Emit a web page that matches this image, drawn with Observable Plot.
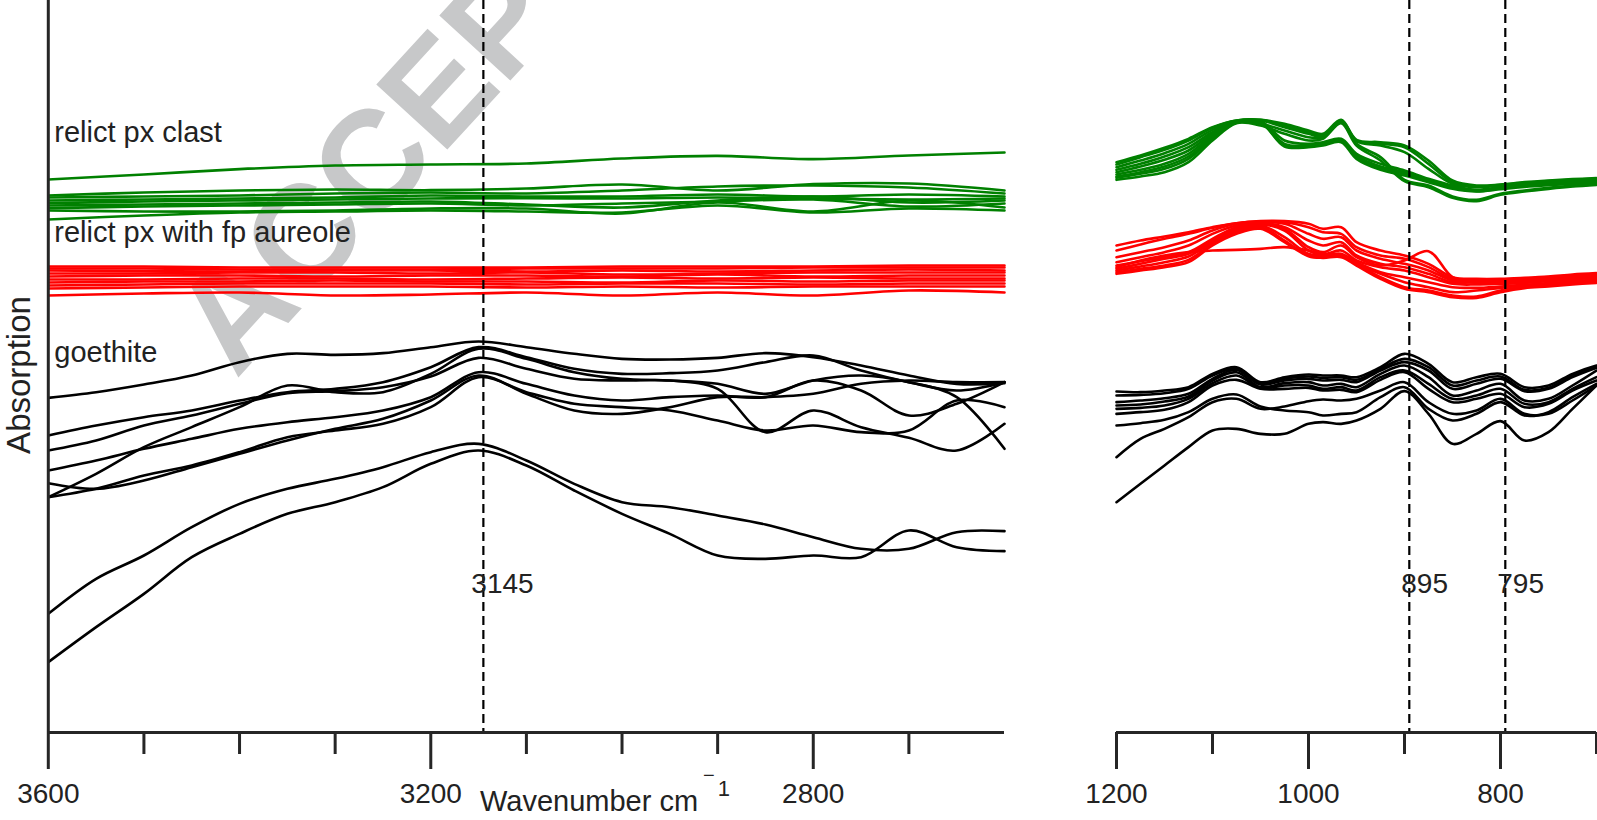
<!DOCTYPE html>
<html><head><meta charset="utf-8">
<script src="https://cdn.jsdelivr.net/npm/d3@7"></script>
<script src="https://cdn.jsdelivr.net/npm/@observablehq/plot@0.6"></script>
<style>
html,body{margin:0;padding:0;background:#fff;}
#wrap{position:relative;width:1597px;height:820px;overflow:hidden;}
#wrap svg{position:absolute;top:0;}
</style></head><body><div id="wrap"></div>
<script>
// ---------- data (absorption in arbitrary units) ----------
const wnLeftCoarse = [3600,3500,3400,3300,3200,3100,3000,2900,2800,2700,2600];
const wnLeftFine = [3600,3550,3500,3450,3400,3350,3300,3250,3200,3150,3100,3050,3000,2950,2900,2850,2800,2750,2700,2650,2600];
const wnRight = [1200,1175,1150,1125,1100,1075,1050,1025,1000,985,966,950,925,900,875,850,825,800,775,750,725,700];

const clastLeft = [
  [1659,1674,1690,1701,1704,1707,1722,1730,1720,1731,1740],
  [1611,1620,1626,1629,1627,1632,1644,1626,1645,1647,1626],
  [1605,1608,1611,1617,1620,1617,1626,1638,1641,1635,1617],
  [1596,1599,1602,1605,1611,1608,1608,1614,1608,1614,1608],
  [1588,1593,1596,1599,1602,1603,1602,1605,1602,1599,1602],
  [1581,1584,1587,1590,1593,1584,1575,1596,1608,1590,1596],
  [1573,1578,1581,1584,1587,1581,1587,1593,1599,1578,1587],
  [1566,1563,1563,1566,1572,1572,1557,1590,1563,1596,1575],
  [1539,1551,1560,1563,1566,1563,1560,1581,1560,1572,1566]
];
const clastRight = [
  [1711,1731,1754,1781,1816,1836,1838,1826,1806,1796,1838,1778,1771,1761,1716,1656,1641,1644,1651,1656,1660,1663],
  [1704,1726,1748,1776,1814,1836,1838,1821,1801,1791,1836,1776,1766,1756,1706,1651,1638,1643,1649,1654,1658,1661],
  [1696,1716,1738,1766,1808,1834,1836,1816,1796,1788,1834,1774,1761,1741,1691,1646,1636,1641,1647,1652,1656,1659],
  [1688,1706,1728,1756,1801,1833,1834,1776,1766,1771,1781,1736,1706,1686,1661,1641,1628,1636,1643,1648,1652,1656],
  [1681,1698,1718,1746,1796,1832,1832,1766,1761,1766,1776,1731,1698,1681,1658,1638,1626,1634,1641,1646,1650,1654],
  [1674,1688,1706,1736,1791,1831,1831,1761,1758,1764,1774,1726,1694,1676,1654,1634,1624,1632,1639,1644,1648,1652],
  [1668,1681,1698,1728,1786,1830,1830,1758,1756,1761,1771,1721,1688,1671,1651,1631,1623,1630,1637,1642,1646,1650],
  [1664,1676,1691,1721,1781,1829,1826,1806,1786,1786,1831,1766,1726,1658,1641,1608,1598,1616,1626,1634,1640,1645],
  [1658,1668,1681,1711,1776,1828,1821,1796,1776,1781,1828,1761,1716,1654,1636,1604,1594,1613,1623,1631,1638,1643]
];
const aureoleLeft = [
  [1398,1398,1395,1395,1395,1395,1398,1398,1398,1401,1401],
  [1392,1392,1389,1389,1389,1392,1392,1392,1395,1395,1395],
  [1386,1384,1383,1386,1386,1383,1386,1383,1386,1389,1386],
  [1377,1377,1380,1380,1377,1380,1374,1377,1380,1380,1380],
  [1368,1371,1371,1368,1371,1371,1368,1374,1368,1371,1371],
  [1359,1359,1362,1362,1359,1362,1365,1362,1365,1362,1362],
  [1350,1353,1353,1356,1353,1353,1350,1356,1353,1356,1356],
  [1341,1344,1347,1347,1347,1344,1347,1347,1344,1347,1347],
  [1332,1335,1338,1338,1338,1335,1338,1335,1338,1338,1338],
  [1311,1317,1320,1311,1314,1320,1311,1320,1311,1326,1320]
];
const aureoleRight = [
  [1461,1476,1488,1501,1516,1528,1534,1534,1526,1511,1516,1471,1446,1431,1406,1366,1361,1361,1364,1368,1374,1378],
  [1446,1464,1481,1496,1514,1528,1533,1531,1516,1501,1496,1456,1431,1421,1396,1361,1358,1359,1362,1366,1371,1376],
  [1426,1441,1456,1476,1506,1526,1531,1526,1496,1481,1486,1446,1421,1406,1386,1356,1354,1356,1359,1363,1368,1373],
  [1411,1426,1441,1461,1496,1521,1528,1516,1476,1461,1471,1431,1406,1396,1376,1351,1351,1353,1356,1360,1365,1370],
  [1401,1414,1426,1441,1481,1516,1526,1511,1456,1441,1461,1426,1401,1416,1444,1366,1348,1350,1353,1357,1362,1367],
  [1391,1406,1421,1436,1476,1511,1524,1506,1446,1434,1446,1416,1396,1386,1366,1346,1344,1346,1349,1354,1359,1364],
  [1386,1398,1411,1428,1471,1506,1521,1486,1436,1431,1436,1411,1381,1366,1351,1336,1334,1338,1343,1348,1354,1359],
  [1381,1391,1401,1418,1466,1501,1516,1476,1431,1426,1431,1406,1366,1336,1326,1311,1308,1326,1336,1341,1348,1353],
  [1376,1386,1396,1411,1461,1496,1511,1471,1429,1424,1426,1401,1361,1331,1321,1306,1304,1321,1333,1338,1344,1349],
  [1396,1416,1431,1441,1446,1448,1451,1456,1446,1436,1431,1406,1376,1351,1336,1321,1326,1334,1341,1346,1351,1356]
];
const goethiteLeft = [
  [1004,1021,1044,1071,1111,1136,1133,1138,1156,1173,1156,1136,1121,1119,1124,1138,1126,1101,1071,1046,1048],
  [891,921,946,966,996,1021,1031,1051,1096,1156,1126,1091,1076,1078,1086,1111,1131,1086,1051,1026,1051],
  [846,876,921,951,986,1018,1024,1036,1068,1124,1091,1061,1056,1056,1031,901,966,916,884,846,926],
  [786,816,851,881,911,931,946,966,1006,1081,1046,1011,996,1006,1011,1006,1056,1026,951,986,1051],
  [748,731,756,796,836,876,911,941,996,1071,1016,966,956,976,1006,1006,1016,1046,1056,1051,1051],
  [706,731,771,801,841,886,906,926,976,1066,1021,986,976,966,936,906,921,901,906,996,976],
  [706,776,856,916,976,1041,1021,1021,1076,1151,1121,1081,1061,1056,1046,1016,1056,1071,1051,1006,851],
  [356,461,531,616,686,731,761,796,841,866,816,746,691,676,651,624,586,551,551,601,604],
  [211,316,416,526,596,656,691,736,806,846,801,726,656,596,531,521,531,526,606,556,544]
];
const goethiteRight = [
  [1023,1021,1026,1036,1076,1096,1051,1066,1074,1071,1071,1066,1096,1136,1106,1051,1066,1076,1036,1041,1076,1101],
  [1011,1013,1018,1031,1071,1091,1046,1061,1068,1064,1066,1058,1091,1121,1096,1041,1056,1068,1028,1034,1071,1096],
  [991,996,1003,1016,1061,1088,1044,1056,1061,1056,1058,1051,1086,1111,1086,1031,1046,1061,1024,1031,1066,1094],
  [981,984,993,1008,1056,1081,1036,1048,1051,1041,1046,1036,1076,1101,1066,1011,1026,1046,996,1001,1041,1086],
  [971,974,981,1001,1048,1071,1033,1041,1041,1031,1036,1026,1066,1086,1046,1001,1011,1031,986,991,1031,1066],
  [956,961,968,991,1041,1058,1031,1031,1034,1026,1028,1021,1058,1081,1031,991,1001,1016,976,986,1026,1056],
  [921,928,938,961,1001,1014,978,966,961,951,956,961,1006,1036,971,936,956,991,951,961,1006,1046],
  [826,881,911,946,991,1001,971,978,994,999,996,1001,1026,1051,991,956,966,1001,956,956,996,1041],
  [691,746,801,856,906,911,896,896,926,931,926,936,971,1024,956,866,896,934,876,901,971,1041]
];
const groupLabels = ["relict px clast", "relict px with fp aureole", "goethite"];
const groupLabelLevels = [1799, 1498, 1139];
const bandsLeft = [3145];
const bandsRight = [895, 795];
const bandLabelLevel = 444;
const majorLeft = [3600, 3200, 2800];
const minorLeft = [3500, 3400, 3300, 3100, 3000, 2900, 2700];
const majorRight = [1200, 1000, 800];
const minorRight = [1100, 900, 700];

// ---------- helpers ----------
const FONT = '"Liberation Sans", Arial, Helvetica, sans-serif';
const AX = "#262626";
const TXT = "#222";
const GREEN = "#008000", RED = "#ff0000", BLACK = "#000000";
function toRows(name, wn, series) {
  return series.flatMap((vals, i) => vals.map((a, j) => ({id: name + i, wn: wn[j], a})));
}
function spectra(rows, color) {
  return Plot.line(rows, {x: "wn", y: "a", z: "id", stroke: color, strokeWidth: 2.6, curve: "catmull-rom"});
}
const yDom = [0, 2196];

// ---------- left panel ----------
const left = Plot.plot({
  width: 1010, height: 820,
  marginLeft: 47.8, marginRight: 6, marginTop: 0, marginBottom: 88,
  x: {domain: [3600, 2600], axis: null},
  y: {domain: yDom, axis: null},
  style: {fontFamily: FONT, background: "white"},
  marks: [
    spectra(toRows("gl", wnLeftCoarse, clastLeft), GREEN),
    spectra(toRows("rl", wnLeftCoarse, aureoleLeft), RED),
    spectra(toRows("kl", wnLeftFine, goethiteLeft), BLACK),
    Plot.ruleX(bandsLeft, {stroke: "#000", strokeWidth: 2.2, strokeDasharray: "9,5"}),
    Plot.ruleY([0], {stroke: AX, strokeWidth: 3}),
    Plot.ruleX([3600], {stroke: AX, strokeWidth: 3}),
    Plot.axisX(majorLeft, {tickSize: 37, tickPadding: 14, fontSize: 28, stroke: AX, strokeWidth: 3, fill: TXT, label: null, tickFormat: d => String(d)}),
    Plot.axisX(minorLeft, {tickSize: 22, stroke: AX, strokeWidth: 3, label: null, tickFormat: () => ""}),
    Plot.text(groupLabels.map((t, i) => ({t, wn: 3600, a: groupLabelLevels[i]})),
      {x: "wn", y: "a", text: "t", textAnchor: "start", dx: 6, fontSize: 29, fill: TXT}),
    Plot.text(bandsLeft.map(b => ({wn: b, a: bandLabelLevel})),
      {x: "wn", y: "a", text: d => String(d.wn), textAnchor: "start", dx: -12, fontSize: 28, fill: TXT})
  ]
});

// ---------- right panel ----------
const right = Plot.plot({
  width: 547, height: 820,
  marginLeft: 66, marginRight: 1, marginTop: 0, marginBottom: 88,
  x: {domain: [1200, 700], axis: null},
  y: {domain: yDom, axis: null},
  style: {fontFamily: FONT, background: "white"},
  marks: [
    spectra(toRows("gr", wnRight, clastRight), GREEN),
    spectra(toRows("rr", wnRight, aureoleRight), RED),
    spectra(toRows("kr", wnRight, goethiteRight), BLACK),
    Plot.ruleX(bandsRight, {stroke: "#000", strokeWidth: 2.2, strokeDasharray: "9,5"}),
    Plot.ruleY([0], {stroke: AX, strokeWidth: 3}),
    Plot.axisX(majorRight, {tickSize: 37, tickPadding: 14, fontSize: 28, stroke: AX, strokeWidth: 3, fill: TXT, label: null, tickFormat: d => String(d)}),
    Plot.axisX(minorRight, {tickSize: 22, stroke: AX, strokeWidth: 3, label: null, tickFormat: () => ""}),
    Plot.text(bandsRight.map(b => ({wn: b, a: bandLabelLevel})),
      {x: "wn", y: "a", text: d => String(d.wn), textAnchor: "start", dx: -8, fontSize: 28, fill: TXT})
  ]
});

const wrap = document.getElementById("wrap");
left.style.left = "0px";
right.style.left = "1050px";
wrap.appendChild(left);
wrap.appendChild(right);

// watermark (beneath the marks), axis titles
const sL = d3.select(left);
sL.insert("text", "g")
  .attr("transform", "translate(236,380) rotate(-47.5)")
  .attr("text-anchor", "start")
  .attr("font-size", 140).attr("font-weight", "bold")
  .attr("fill", "#c7c8c9")
  .text("ACCEPTED MANUSCRIPT");
sL.append("text")
  .attr("transform", "translate(30,375) rotate(-90)")
  .attr("text-anchor", "middle").attr("font-size", 33).attr("fill", TXT)
  .text("Absorption");
const wl = sL.append("text").attr("x", 480).attr("y", 811)
  .attr("text-anchor", "start").attr("font-size", 29).attr("fill", TXT);
wl.append("tspan").text("Wavenumber cm");
wl.append("tspan").attr("dx", 5).attr("dy", -29).attr("font-size", 20).text("\u2212");
wl.append("tspan").attr("dx", 3).attr("dy", 14).attr("font-size", 22).text("1");
</script></body></html>
